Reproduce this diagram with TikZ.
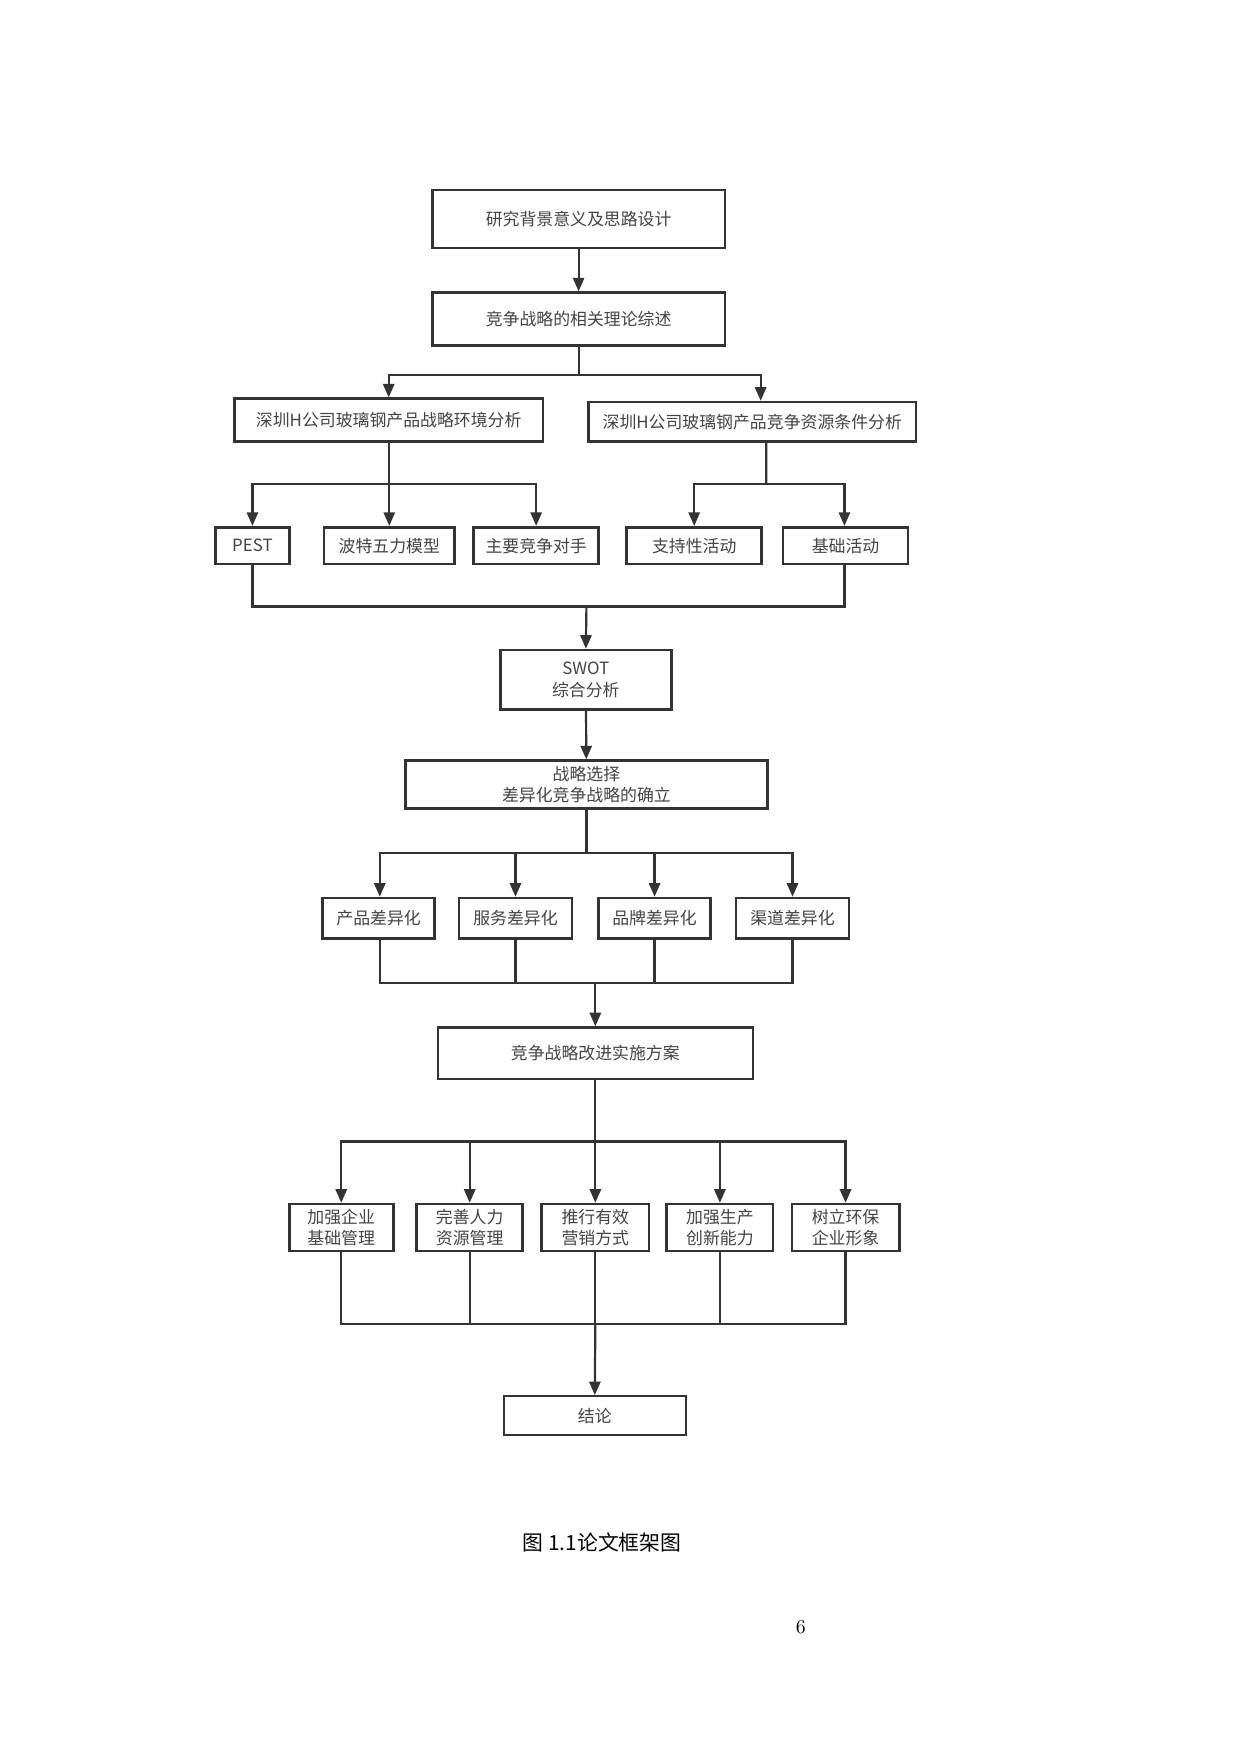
\documentclass[tikz,border=0pt]{standalone}
\usepackage{fontspec}
\newfontfamily\cjk{Noto Sans CJK SC}
\usetikzlibrary{arrows.meta,calc}
\definecolor{ink}{HTML}{333333}
\definecolor{txt}{HTML}{444444}
\def\u{0.536pt}
\begin{document}
\begin{tikzpicture}[x=0.536pt,y=-0.536pt,
  box/.style={draw=ink,line width=1.3pt,fill=white,inner sep=0pt,align=center,
    font=\cjk\fontsize{8.1pt}{10.4pt}\selectfont,text=txt},
  line/.style={draw=ink,line width=1.05pt},
  arr/.style={line,-{Triangle[width=5.4pt,length=6.5pt]}}]
\useasboundingbox[fill=white] (0,0) rectangle (1110.1,1570.3);
% boxes
\node[box,minimum width=262*\u,minimum height=52*\u] (b1) at (518,196) {研究背景意义及思路设计};
\node[box,minimum width=262*\u,minimum height=47*\u] (b2) at (518,285.5) {竞争战略的相关理论综述};
\node[box,minimum width=276*\u,minimum height=38*\u] (b3L) at (348,376) {深圳H公司玻璃钢产品战略环境分析};
\node[box,minimum width=293*\u,minimum height=35*\u] (b3R) at (673.5,377.5) {深圳H公司玻璃钢产品竞争资源条件分析};
\node[box,minimum width=66*\u,minimum height=33*\u] (pest) at (226,488.5) {PEST};
\node[box,minimum width=117*\u,minimum height=33*\u] (porter) at (348.5,488.5) {波特五力模型};
\node[box,minimum width=112*\u,minimum height=33*\u] (rival) at (480,488.5) {主要竞争对手};
\node[box,minimum width=121*\u,minimum height=33*\u] (support) at (621.5,488.5) {支持性活动};
\node[box,minimum width=112*\u,minimum height=33*\u] (base) at (757,488.5) {基础活动};
\node[box,minimum width=153*\u,minimum height=53*\u] (swot) at (524.5,608.5) {SWOT\\综合分析};
\node[box,minimum width=324*\u,minimum height=43*\u] (choice) at (525,702.5) {战略选择\\差异化竞争战略的确立};
\node[box,minimum width=100*\u,minimum height=36*\u] (d1) at (339,822) {产品差异化};
\node[box,minimum width=101*\u,minimum height=36*\u] (d2) at (461.5,822) {服务差异化};
\node[box,minimum width=100*\u,minimum height=36*\u] (d3) at (586,822) {品牌差异化};
\node[box,minimum width=101*\u,minimum height=36*\u] (d4) at (709.5,822) {渠道差异化};
\node[box,minimum width=282*\u,minimum height=46*\u] (plan) at (533,943) {竞争战略改进实施方案};
\node[box,minimum width=93*\u,minimum height=42*\u] (e1) at (305.5,1099) {加强企业\\基础管理};
\node[box,minimum width=95*\u,minimum height=42*\u] (e2) at (420.5,1099) {完善人力\\资源管理};
\node[box,minimum width=96*\u,minimum height=42*\u] (e3) at (533,1099) {推行有效\\营销方式};
\node[box,minimum width=95*\u,minimum height=42*\u] (e4) at (644.5,1099) {加强生产\\创新能力};
\node[box,minimum width=96*\u,minimum height=42*\u] (e5) at (757,1099) {树立环保\\企业形象};
\node[box,line width=1.1pt,minimum width=163*\u,minimum height=35*\u] (concl) at (532.5,1267.5) {结论};
% junctions
\coordinate (j1) at (518,336);
\coordinate (j2) at (348,433);
\coordinate (j3) at (686,433);
\coordinate (j4) at (525,543);
\coordinate (j5) at (525,764);
\coordinate (j6) at (533,880);
\coordinate (j7) at (533,1022);
\coordinate (j8) at (533,1185);
% connectors
\draw[arr] (b1) -- (b2);
\draw[line] (b2.south) -- (j1);
\draw[arr] (j1) -| (b3L.north);
\draw[arr] (j1) -| ($(b3R.north)+(7.5,0)$);
\draw[line] (b3L.south) -- (j2);
\draw[arr] (j2) -| (pest.north);
\draw[arr] (j2) -| (porter.north);
\draw[arr] (j2) -| (rival.north);
\draw[line] ($(b3R.south)+(12.5,0)$) -- (j3);
\draw[arr] (j3) -| (support.north);
\draw[arr] (j3) -| ($(base.north)+(-1,0)$);
\draw[line] (pest.south) |- (j4);
\draw[line] ($(base.south)+(-1,0)$) |- (j4);
\draw[arr] (j4) -- (swot.north);
\draw[arr] (swot) -- (choice);
\draw[line] (choice.south) -- (j5);
\draw[arr] (j5) -| ($(d1.north)+(1,0)$);
\draw[arr] (j5) -| (d2.north);
\draw[arr] (j5) -| (d3.north);
\draw[arr] (j5) -| (d4.north);
\draw[line] ($(d1.south)+(1,0)$) |- (j6);
\draw[line] (d2.south) |- (j6);
\draw[line] (d3.south) |- (j6);
\draw[line] (d4.south) |- (j6);
\draw[arr] (j6) -- (plan.north);
\draw[line] (plan.south) -- (j7);
\draw[arr] (j7) -| (e1.north);
\draw[arr] (j7) -| (e2.north);
\draw[arr] (j7) -- (e3.north);
\draw[arr] (j7) -| (e4.north);
\draw[arr] (j7) -| (e5.north);
\draw[line] (e1.south) |- (j8);
\draw[line] (e2.south) |- (j8);
\draw[line] (e3.south) -- (j8);
\draw[line] (e4.south) |- (j8);
\draw[line] (e5.south) |- (j8);
\draw[arr] (j8) -- (concl.north);
% caption and page number
\node[font=\cjk\fontsize{10pt}{12pt}\selectfont] (cap) at (539,1381) {图 1.1论文框架图};
\node[font=\fontsize{9.5pt}{11pt}\selectfont] (pg) at (717,1457) {6};
\end{tikzpicture}
\end{document}
